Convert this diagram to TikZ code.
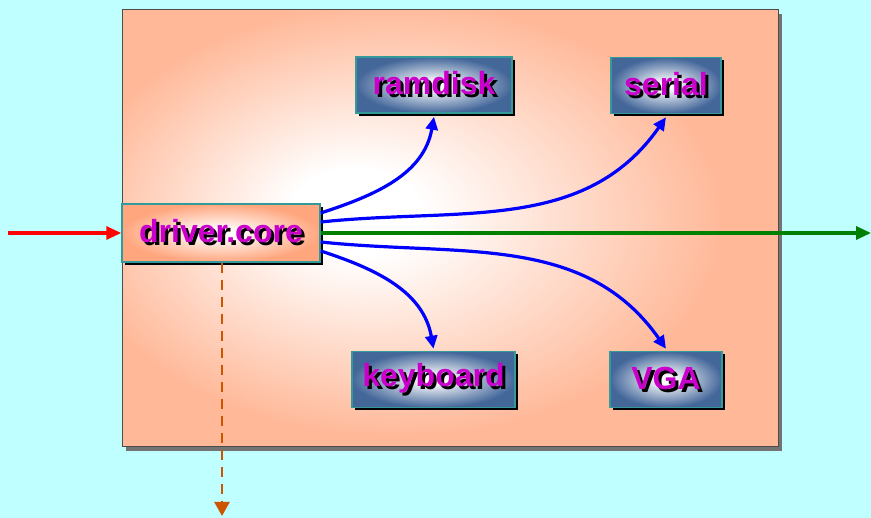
\documentclass[tikz,border=0pt]{standalone}
\usepackage{fontspec}
\setmainfont{Liberation Sans}
\usepackage{xcolor}
\usetikzlibrary{arrows.meta,shadows}
\definecolor{mCyan}{HTML}{C0FFFF}
\definecolor{mSalmon}{HTML}{FFB898}
\definecolor{mCore}{HTML}{FFA67E}
\definecolor{mSteel}{HTML}{44679A}
\definecolor{mTeal}{HTML}{339999}
\definecolor{mMagenta}{HTML}{CC00CC}
\definecolor{mRust}{HTML}{CC5500}
\definecolor{mGreen}{HTML}{008000}
\pgfdeclareradialshading{panelshade}{\pgfpoint{-8bp}{2bp}}{color(0bp)=(white);color(5bp)=(white);color(25bp)=(mSalmon);color(50bp)=(mSalmon)}
\pgfdeclareradialshading{boxshade}{\pgfpointorigin}{color(0bp)=(white);color(3bp)=(white);color(25bp)=(mSteel);color(50bp)=(mSteel)}
\pgfdeclareradialshading{coreshade}{\pgfpointorigin}{color(0bp)=(white);color(3bp)=(white);color(25bp)=(mCore);color(50bp)=(mCore)}
\newcommand\dropword[1]{\rlap{\hspace{3pt}\raisebox{-3pt}{\color{black}#1}}{\color{mMagenta}#1}}

\begin{document}
\begin{tikzpicture}[x=1pt,y=1pt,
  panel/.style={draw=black!70,line width=1pt,shade,shading=panelshade,minimum width=656pt,minimum height=437pt,
    drop shadow={shadow xshift=4pt,shadow yshift=-4pt,fill=black!55,opacity=1}},
  module/.style={draw=mTeal,line width=1.5pt,shade,shading=boxshade,minimum height=56pt,inner sep=0pt,
    font=\bfseries\fontsize{32}{36}\selectfont,
    drop shadow={shadow xshift=3pt,shadow yshift=-3pt,fill=black,opacity=1}},
  core/.style={module,shading=coreshade,minimum height=58pt},
  arr/.style={-{Triangle[length=15pt,width=13pt]},line width=3.2pt},
  link/.style={-{Triangle[length=13pt,width=12pt]},line width=3.2pt,blue}
]
\fill[mCyan] (0,0) rectangle (871,518);
\useasboundingbox (0,0) rectangle (871,518);
\node[panel] (panel) at (450,289.5) {};
\node[core,minimum width=198pt] (drv) at (221,285) {\dropword{driver.core}};
\node[module,minimum width=156pt] (ram) at (434,433) {\dropword{ramdisk}};
\node[module,minimum width=110pt] (ser) at (666,432.5) {\dropword{serial}};
\node[module,minimum width=163pt] (kbd) at (433.5,138.5) {\dropword{keyboard}};
\node[module,minimum width=112pt] (vga) at (666,138.5) {\dropword{VGA}};
\coordinate (in) at (8,285);
\coordinate (out) at (871,285);
\coordinate (down) at (222,2);
\draw[arr,red] (in) -- (drv.west);
\draw[arr,mGreen] (drv.east) -- (out);
\draw[-{Triangle[length=14pt,width=15pt]},mRust,dash pattern=on 10pt off 7pt,line width=2.5pt] (drv.south -| down) -- (down);
\draw[link] ([yshift=20pt]drv.east) to[out=18,in=-100] ([yshift=-3pt]ram.south);
\draw[link] ([yshift=11pt]drv.east) to[out=6,in=-125] ([yshift=-3pt]ser.south);
\draw[link] ([yshift=-18pt]drv.east) to[out=-18,in=100] ([yshift=2pt]kbd.north);
\draw[link] ([yshift=-9pt]drv.east) to[out=-6,in=125] ([yshift=2pt]vga.north);
\end{tikzpicture}
\end{document}
